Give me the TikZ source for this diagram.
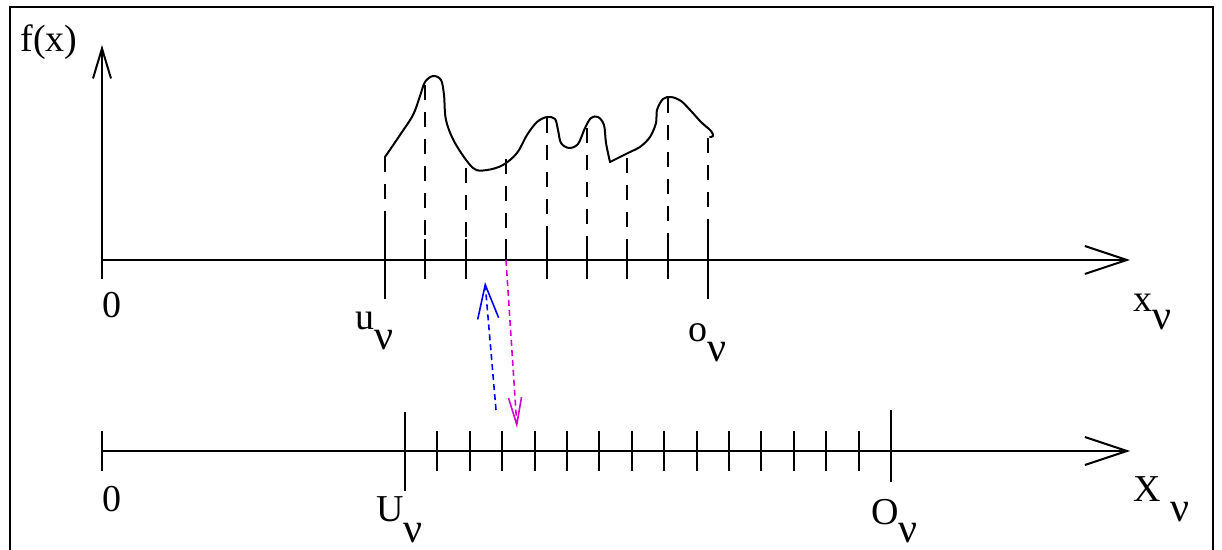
\documentclass[tikz,border=0pt]{standalone}
\usepackage{fontspec}
\setmainfont{Liberation Serif}
\usepackage{xcolor}
\usetikzlibrary{arrows.meta, calc}

\definecolor{mapblue}{RGB}{0,0,255}
\definecolor{mapmagenta}{RGB}{210,0,210}

\newcommand{\nusub}[2]{#1\raisebox{-#2}{\fontsize{21}{23}\selectfont ν}}

\begin{document}
\begin{tikzpicture}[x=0.5pt, y=-0.5pt]

\tikzset{
  axisline/.style={line width=1pt,
    -{Straight Barb[length=21pt, width=14pt]}},
  yaxisline/.style={line width=1pt,
    -{Straight Barb[length=15pt, width=9pt]}},
  tickline/.style={line width=1pt},
  dropline/.style={line width=1pt, dash pattern=on 7.5pt off 6pt},
  curveline/.style={line width=1pt, line join=round, line cap=round},
  bluemap/.style={line width=0.8pt, mapblue, dash pattern=on 3pt off 2pt,
    -{Straight Barb[length=17pt, width=10.5pt]}},
  magentamap/.style={line width=0.8pt, mapmagenta, dash pattern=on 3pt off 2pt,
    -{Straight Barb[length=13.5pt, width=6.5pt]}},
  lbl/.style={inner sep=0pt, anchor=base west, font=\fontsize{19}{22}\selectfont}
}

\useasboundingbox (0,0) rectangle (1222,550);

% frame
\draw[line width=1pt] (10,550) -- (10,7) -- (1213,7) -- (1213,550);

% upper axes
\coordinate (yfoot) at (102,279);
\coordinate (ytop)  at (102,45);
\coordinate (xleft) at (102,260);
\coordinate (xtip)  at (1130,260);
\draw[yaxisline] (yfoot) -- (ytop);
\draw[axisline]  (xleft) -- (xtip);

% curve f(x)
\draw[curveline] plot[smooth, tension=0.55] coordinates {
  (385,157) (400,135) (413,115) (420,96) (425,82) (433,76) (441,80)
  (444,95) (446,120) (455,143) (473,168) (487,170) (503,165) (517,153)
  (527,135) (537,122) (547,117) (555,119) (558,130) (561,143) (569,148)
  (578,144) (585,128) (591,118) (598,117) (604,125) (606,143) (610,162)};
\draw[curveline] plot[smooth, tension=0.55] coordinates {
  (610,162) (630,152) (640,147) (650,137) (656,123) (657,110) (663,99)
  (671,97) (681,101) (691,111) (701,122) (711,131) (713,136) (710,137)};

% sample lines
\foreach \xs/\ys in {385/157, 425/85, 466/168, 506/159, 547/118,
                     587/128, 627/158, 668/98, 708/138} {
  \draw[dropline] (\xs,\ys) -- (\xs,239);
}
\foreach \xs in {425, 466, 547, 587, 627, 668} {
  \draw[tickline] (\xs,239) -- (\xs,279);
}
\draw[tickline] (506,239) -- (506,260);
\draw[tickline] (385,212) -- (385,299);
\draw[tickline] (708,219) -- (708,299);

% lower axis
\coordinate (zleft) at (102,451);
\coordinate (ztip)  at (1130,451);
\draw[axisline] (zleft) -- (ztip);
\draw[tickline] (102,431) -- (102,471);
\draw[tickline] (405,412) -- (405,491);
\draw[tickline] (891,410) -- (891,482);
\foreach \k in {1,...,14} {
  \draw[tickline] ({405+32.4*\k},431) -- ({405+32.4*\k},471);
}

% mapping arrows
\coordinate (bluetail)    at (496,410);
\coordinate (bluehead)    at (485,282);
\coordinate (magentatail) at (506,260);
\coordinate (magentahead) at (517,428);
\draw[bluemap]    (bluetail) -- (bluehead);
\draw[magentamap] (magentatail) -- (magentahead);

% labels
\node[lbl] (fx)    at (20,52)   {f(x)};
\node[lbl] (zero1) at (102,318) {0};
\node[lbl] (zero2) at (102,512) {0};
\node[lbl] (ulab)  at (355,330) {\nusub{u}{10pt}};
\node[lbl] (olab)  at (688,342) {\nusub{o}{10pt}};
\node[lbl] (xlab)  at (1133,312) {\nusub{x}{9pt}};
\node[lbl] (Ulab)  at (376,522) {\nusub{U}{10.5pt}};
\node[lbl] (Olab)  at (871,525) {\nusub{O}{9pt}};
\node[lbl] (Xlab)  at (1133,502) {\nusub{X\hspace{5pt}}{10pt}};

\end{tikzpicture}
\end{document}
